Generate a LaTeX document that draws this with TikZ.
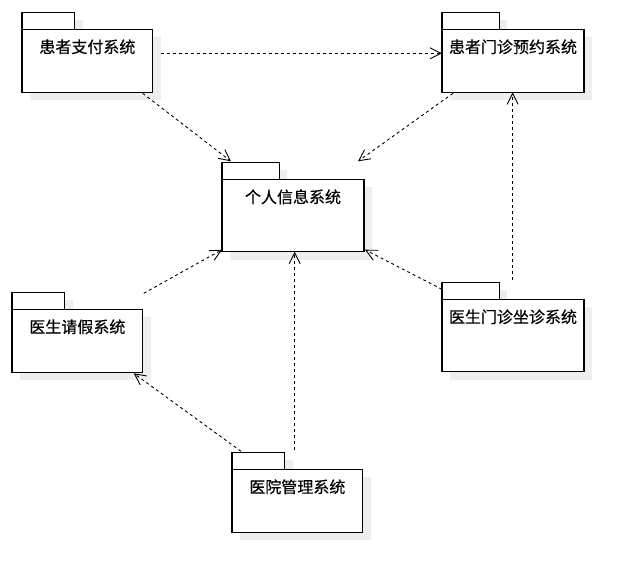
\documentclass[tikz,border=0pt]{standalone}
\usepackage{fontspec}
\setmainfont{Noto Sans CJK SC}
\newfontfamily\pkgfont{Noto Sans CJK SC}[FakeBold=0.4]
\usetikzlibrary{arrows.meta,calc}

\definecolor{shadowgrey}{HTML}{EEEEEE}

\tikzset{
  pkgbody/.style={draw=black, line width=1.1pt, fill=white, rectangle,
    inner sep=0pt, outer sep=0pt},
  pkgtab/.style={draw=black, line width=1.1pt, fill=white, rectangle,
    inner sep=0pt, outer sep=0pt, minimum height=17pt},
  pkglabel/.style={inner sep=0pt, font=\pkgfont\fontsize{16pt}{18pt}\selectfont},
  dependency/.style={draw=black, line width=0.9pt, dash pattern=on 3pt off 3pt,
    -{Straight Barb[length=11pt,width=11pt,line width=0.9pt]}}
}

% \pkgbox{name}{left}{top}{width}{height}{tab width}{title}
% (coordinates grow rightwards and downwards)
\newcommand{\pkgbox}[7]{%
  \fill[shadowgrey] ({#2+8},{#3-9}) rectangle ++(#6,{#5+17});
  \fill[shadowgrey] ({#2+8},{#3+8}) rectangle ++(#4,#5);
  \node[pkgbody, minimum width=#4pt, minimum height=#5pt, anchor=north west]
    (#1) at (#2,#3) {};
  \node[pkgtab, minimum width=#6pt, anchor=south west] (#1-tab) at (#1.north west) {};
  \node[pkglabel] (#1-text) at ([yshift=-17.5pt]#1.north) {#7};
}

\begin{document}
\begin{tikzpicture}[x=1pt, y=-1pt]
  \useasboundingbox (0,0) rectangle (633,582);

  % packages
  \pkgbox{pay}{22}{29.3}{130.7}{63}{52.7}{患者支付系统}
  \pkgbox{appt}{442}{29.3}{142}{63}{57.3}{患者门诊预约系统}
  \pkgbox{info}{222}{179.3}{142}{72.4}{57.3}{个人信息系统}
  \pkgbox{leave}{12}{309.3}{130.7}{63}{52.7}{医生请假系统}
  \pkgbox{clinic}{442}{299.3}{142}{72.4}{57.3}{医生门诊坐诊系统}
  \pkgbox{admin}{232}{469.3}{130.7}{63}{52.7}{医院管理系统}

  % free ends of the dependencies
  \coordinate (payOut) at ($(pay.north east)+(8,24)$);
  \coordinate (clinicUp) at ($(clinic-tab.north east)+(13.3,-2)$);
  \coordinate (adminUp) at ($(admin-tab.north east)+(10,-2)$);

  % dependencies
  \draw[dependency] (payOut) -- (payOut -| appt.west);
  \draw[dependency] ($(pay.south east)+(-10,1)$) -- ($(info-tab.north west)+(9,-1)$);
  \draw[dependency] ($(appt.south west)+(11,1)$) -- ($(info.north east)+(-6,-18)$);
  \draw[dependency] ($(leave.north east)+(1,-16)$) -- ($(info.south west)+(0,-2)$);
  \draw[dependency] ($(clinic.north west)+(0,-10)$) -- ($(info.south east)+(1,-2)$);
  \draw[dependency] (clinicUp) -- (clinicUp |- appt.south);
  \draw[dependency] (adminUp) -- (adminUp |- info.south);
  \draw[dependency] ($(admin-tab.north west)+(9,-1)$) -- ($(leave.south east)+(-9,1)$);
\end{tikzpicture}
\end{document}
